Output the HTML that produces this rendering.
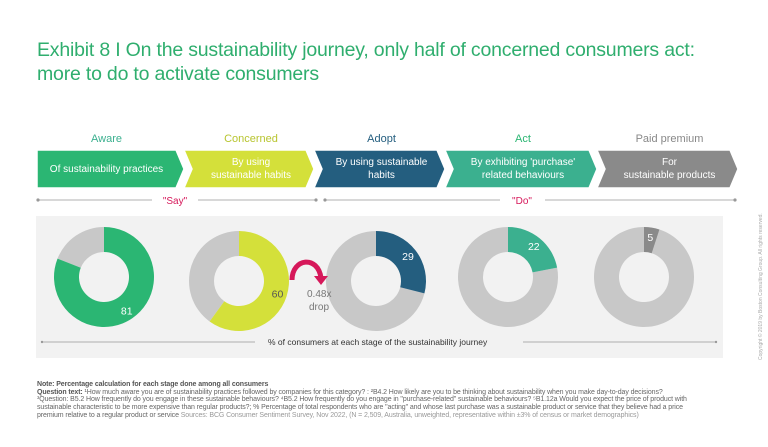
<!DOCTYPE html>
<html><head><meta charset="utf-8"><style>
body{margin:0;width:768px;height:447px;background:#fff;font-family:"Liberation Sans",sans-serif;overflow:hidden;position:relative}
.t{position:absolute;left:37px;top:38px;color:#2fae6e;font-size:19.5px;line-height:24px;letter-spacing:-0.2px}
.note{position:absolute;left:37px;top:381px;width:720px;font-size:7px;line-height:7.7px;color:#666;white-space:nowrap;letter-spacing:-0.1px}
.cp{position:absolute;left:758px;top:360px;transform:rotate(-90deg);transform-origin:left top;font-size:5px;color:#aaa;white-space:nowrap}
</style></head><body>
<div class="t">Exhibit 8 I On the sustainability journey, only half of concerned consumers act:<br>more to do to activate consumers</div>
<svg width="768" height="447" style="position:absolute;left:0;top:0" id="svg">
<g id="stages"></g>
<g stroke="#999" stroke-width="0.8" fill="#999">
<line x1="38" y1="200" x2="152" y2="200"/><line x1="198" y1="200" x2="316" y2="200"/>
<line x1="325" y1="200" x2="500" y2="200"/><line x1="545" y1="200" x2="735" y2="200"/>
<circle cx="38" cy="200" r="1.2"/><circle cx="316" cy="200" r="1.2"/><circle cx="325" cy="200" r="1.2"/><circle cx="735" cy="200" r="1.2"/>
</g>
<text x="175" y="204" text-anchor="middle" fill="#d6185a" font-size="10">"Say"</text>
<text x="522" y="204" text-anchor="middle" fill="#d6185a" font-size="10">"Do"</text>
<rect x="36" y="216" width="687" height="142" fill="#f2f2f2"/>
<g id="donuts"></g>
<path d="M292 280 C292 258 318 255 321 278" fill="none" stroke="#d6185a" stroke-width="5"/>
<polygon points="314,276 328,276 321,285" fill="#d6185a"/>
<text x="307" y="297" font-size="10" fill="#777">0.48x</text>
<text x="309" y="310" font-size="10" fill="#777">drop</text>
<line x1="42" y1="342" x2="255" y2="342" stroke="#999" stroke-width="0.8"/>
<circle cx="42" cy="342" r="1.2" fill="#999"/>
<text x="268" y="345" font-size="8.5" fill="#333">% of consumers at each stage of the sustainability journey</text>
<line x1="523" y1="342" x2="716" y2="342" stroke="#999" stroke-width="0.8"/>
<circle cx="716" cy="342" r="1.2" fill="#999"/>
</svg>
<div class="note"><b style="color:#555">Note: Percentage calculation for each stage done among all consumers</b><br><b style="color:#555">Question text:</b> ¹How much aware you are of sustainability practices followed by companies for this category? : ²B4.2 How likely are you to be thinking about sustainability when you make day-to-day decisions?<br>³Question: B5.2 How frequently do you engage in these sustainable behaviours? ⁴B5.2 How frequently do you engage in "purchase-related" sustainable behaviours? ⁵B1.12a Would you expect the price of product with<br>sustainable characteristic to be more expensive than regular products?; % Percentage of total respondents who are "acting" and whose last purchase was a sustainable product or service that they believe had a price<br>premium relative to a regular product or service <span style="color:#999">Sources: BCG Consumer Sentiment Survey, Nov 2022, (N = 2,509, Australia, unweighted, representative within ±3% of census or market demographics)</span></div>
<div class="cp">Copyright © 2019 by Boston Consulting Group. All rights reserved.</div>
<script>
const stageNames=["Aware","Concerned","Adopt","Act","Paid premium"];
const stageDescs=[["Of sustainability practices"],["By using","sustainable habits"],["By using sustainable","habits"],["By exhibiting 'purchase'","related behaviours"],["For","sustainable products"]];
const values=[81,60,29,22,5];
const colors=["#2bb673","#d4e03a","#245e7f","#3bb08f","#8a8a8a"];
const titleColors=["#3bb08f","#b8c530","#245e7f","#2bb673","#888"];
const NS="http://www.w3.org/2000/svg";
const mk=(t,a,p)=>{const e=document.createElementNS(NS,t);for(const k in a)e.setAttribute(k,a[k]);p.appendChild(e);return e;};
const sg=document.getElementById("stages");
const xs=[37,184,314,445,597,738];
stageNames.forEach((n,i)=>{
  const x0=xs[i],x1=xs[i+1],y0=150,y1=188,tip=8,ym=169;
  const pts=i===0?`${x0},${y0} ${x1-tip},${y0} ${x1},${ym} ${x1-tip},${y1} ${x0},${y1}`:`${x0},${y0} ${x1-tip},${y0} ${x1},${ym} ${x1-tip},${y1} ${x0},${y1} ${x0+tip},${ym}`;
  const p=mk("polygon",{points:pts,fill:colors[i],stroke:"#fff","stroke-width":1.5},sg);
  
  
  const cx=(x0+x1)/2+(i===0?-4:2);
  const t=mk("text",{x:cx,y:142,"text-anchor":"middle","font-size":11,fill:titleColors[i]},sg);t.textContent=n;
  
  
  const d=stageDescs[i];
  d.forEach((l,j)=>{const tt=mk("text",{x:cx,y:(d.length===1?172:165)+j*13,"text-anchor":"middle","font-size":10,fill:"#fff"},sg);tt.textContent=l;
  
  });
});
const dg=document.getElementById("donuts");
const cxs=[104,239,376,508,644],cys=[277,281,281,277,277],R=50,r=25;
function arc(cx,cy,a0,a1){const p=(a,rr)=>[cx+rr*Math.sin(a),cy-rr*Math.cos(a)];const l=(a1-a0)>Math.PI?1:0;
 const[a,b]=p(a0,R),[c,d]=p(a1,R),[e,f]=p(a1,r),[g,h]=p(a0,r);
 return `M${a},${b} A${R},${R} 0 ${l} 1 ${c},${d} L${e},${f} A${r},${r} 0 ${l} 0 ${g},${h}Z`;}
values.forEach((v,i)=>{
  const cx=cxs[i],cy=cys[i],a=v/100*2*Math.PI;
  const bg=mk("path",{d:arc(cx,cy,a,2*Math.PI-0.0001),fill:"#c8c8c8"},dg);
  
  
  const s=mk("path",{d:arc(cx,cy,0,a),fill:colors[i]},dg);
  
  
  const m=a/2,lr=(R+r)/2+3;
  const t=mk("text",{x:cx+lr*Math.sin(m),y:cy-lr*Math.cos(m)+4,"text-anchor":"middle","font-size":10.5,fill:i===1?"#555":"#fff"},dg);
  t.textContent=v;
  
  
});
</script>
</body></html>
